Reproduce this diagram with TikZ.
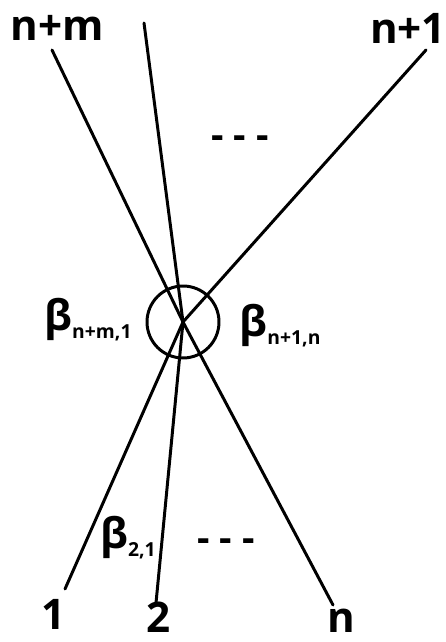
\documentclass[tikz,border=0pt]{standalone}
\usepackage{fontspec}
\setmainfont{Open Sans}
\usetikzlibrary{positioning}
\newcommand{\sbs}[1]{\raisebox{-0.35ex}{\fontsize{11}{11}\selectfont #1}}

\begin{document}
\begin{tikzpicture}[x=0.02cm, y=-0.02cm,
		leg/.style = {line width=1.7pt, line cap=round},
		lbl/.style = {inner sep=0pt, font=\fontsize{24}{28}\selectfont\bfseries},
		dots/.style = {inner sep=0pt, font=\fontsize{22}{26}\selectfont\bfseries}
		]
		\useasboundingbox (0,0) rectangle (446,642);
		
		%Vertex
		\coordinate (x) at (183,322);
		\node[draw, circle, line width=1.7pt, minimum size=72*0.02cm, inner sep=0pt] (vert) at (x) {};
		
		%Ends
		\coordinate (e1)  at (65,589);
		\coordinate (e2)  at (156,603);
		\coordinate (en)  at (333,605);
		\coordinate (enm) at (52,50);
		\coordinate (emid) at (144,23);
		\coordinate (enp) at (426,50);
		
		%Labels
		\node[lbl]	(nm)	at	(57,28)		{n+m};
		\node[lbl]	(np)	at	(408,28)	{n+1};
		\node[lbl]	(one)	at	(54,614)	{1};
		\node[lbl]	(two)	at	(159,617)	{2};
		\node[lbl]	(nn)	at	(341,621)	{n};
		\node[lbl]	(bnm)	at	(88,320)	{β\sbs{n+m,1}};
		\node[lbl]	(bnp)	at	(280,326)	{β\sbs{n+1,n}};
		\node[lbl]	(b21)	at	(128,538)	{β\sbs{2,1}};
		\node[dots]	(dtop)	at	(240,142)	{- - -};
		\node[dots]	(dbot)	at	(226,545)	{- - -};
		
		%Lines
		\draw[leg]	(enm)	--	(x);
		\draw[leg]	(emid)	--	(x);
		\draw[leg]	(enp)	--	(x);
		\draw[leg]	(e1)	--	(x);
		\draw[leg]	(e2)	--	(x);
		\draw[leg]	(en)	--	(x);
	\end{tikzpicture}
\end{document}
